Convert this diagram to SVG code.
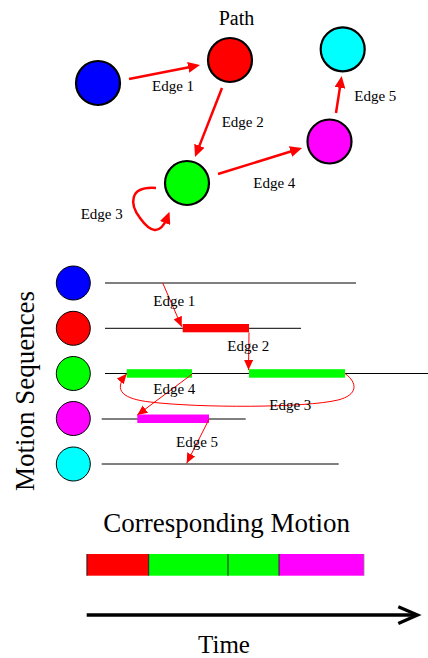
<svg xmlns="http://www.w3.org/2000/svg" width="428" height="658" viewBox="0 0 428 658">
<style>
text{font-family:"Liberation Serif","Times New Roman",serif;fill:#000}
.lbl{font-size:15px}
.big{font-size:27px}
.tn{stroke:#000;stroke-width:2.2}
.sn{stroke:#000;stroke-width:1}
.te{stroke:#f00;stroke-width:2.5;fill:none}
.se{stroke:#f00;stroke-width:1;fill:none}
.seq{stroke:#000;stroke-width:1}
.div{stroke:#222;stroke-width:1}
</style>
<defs>
<marker id="ahBig" markerUnits="userSpaceOnUse" markerWidth="12" markerHeight="11" refX="6" refY="5.5" orient="auto">
<path d="M0,0 L12,5.5 L0,11 z" fill="#f00"/>
</marker>
<marker id="ahSmall" markerUnits="userSpaceOnUse" markerWidth="10" markerHeight="9" refX="10" refY="4.5" orient="auto">
<path d="M0,0 L10,4.5 L0,9 z" fill="#f00"/>
</marker>
</defs>
<rect width="428" height="658" fill="#fff"/>

<text x="236.5" y="25" text-anchor="middle" style="font-size:20px">Path</text>

<g id="path-blue"><circle class="tn" cx="98" cy="83" r="22" fill="#00f"/></g>
<g id="path-red"><circle class="tn" cx="230" cy="60" r="22" fill="#f00"/></g>
<g id="path-green"><circle class="tn" cx="187" cy="183" r="22" fill="#0f0"/></g>
<g id="path-magenta"><circle class="tn" cx="329.5" cy="141.5" r="22" fill="#f0f"/></g>
<g id="path-cyan"><circle class="tn" cx="342.7" cy="49.3" r="22" fill="#0ff"/></g>

<g id="seq-blue"><circle class="sn" cx="73.3" cy="283" r="17" fill="#00f"/></g>
<g id="seq-red"><circle class="sn" cx="73.3" cy="328.3" r="17" fill="#f00"/></g>
<g id="seq-green"><circle class="sn" cx="73.3" cy="373.5" r="17" fill="#0f0"/></g>
<g id="seq-magenta"><circle class="sn" cx="73.3" cy="418.5" r="17" fill="#f0f"/></g>
<g id="seq-cyan"><circle class="sn" cx="73.3" cy="464" r="17" fill="#0ff"/></g>

<text class="big" transform="translate(34,391) rotate(-90)" text-anchor="middle">Motion Sequences</text>

<g id="timelines">
<line class="seq" x1="105" y1="283" x2="356" y2="283"/>
<line class="seq" x1="105" y1="328.3" x2="301" y2="328.3"/>
<line class="seq" x1="105" y1="373.5" x2="428" y2="373.5"/>
<line class="seq" x1="101.7" y1="419" x2="245.7" y2="419"/>
<line class="seq" x1="101.7" y1="464" x2="338.7" y2="464"/>
<rect x="182.7" y="324" width="66.3" height="8.3" fill="#f00"/>
<rect x="126.7" y="369.2" width="65.3" height="8.5" fill="#0f0"/>
<rect x="249" y="369.2" width="96" height="8.5" fill="#0f0"/>
<rect x="137.3" y="414.5" width="71.7" height="8.5" fill="#f0f"/>
</g>

<g id="connectors">
<line class="te" x1="129" y1="79" x2="194.1" y2="66.2" marker-end="url(#ahBig)"/>
<line class="te" x1="222" y1="88" x2="197.2" y2="151.4" marker-end="url(#ahBig)"/>
<path class="te" d="M156,188 C128,186 130,205 140,218 C150,232 160,236 167.3,217.4" marker-end="url(#ahBig)"/>
<line class="te" x1="218" y1="174" x2="296.3" y2="149.8" marker-end="url(#ahBig)"/>
<line class="te" x1="336" y1="113" x2="340.8" y2="81.9" marker-end="url(#ahBig)"/>

<line class="se" x1="162.7" y1="283" x2="181.7" y2="326.7" marker-end="url(#ahSmall)"/>
<line class="se" x1="249" y1="332.5" x2="248.5" y2="370" marker-end="url(#ahSmall)"/>
<path class="se" d="M345,373.5 C358,383 358,395 338,400 C305,408 200,408 150,402 C124,399 112,391 126.7,373.8" marker-end="url(#ahSmall)"/>
<line class="se" x1="192.3" y1="374" x2="137.3" y2="415" marker-end="url(#ahSmall)"/>
<line class="se" x1="209" y1="419.3" x2="186.7" y2="463.3" marker-end="url(#ahSmall)"/>
</g>

<g id="edge-labels">
<text class="lbl" x="152" y="91">Edge 1</text>
<text class="lbl" x="221.7" y="127">Edge 2</text>
<text class="lbl" x="80.7" y="218.5">Edge 3</text>
<text class="lbl" x="253.3" y="188">Edge 4</text>
<text class="lbl" x="354.3" y="100.5">Edge 5</text>

<text class="lbl" x="153.3" y="305.5">Edge 1</text>
<text class="lbl" x="227.3" y="351">Edge 2</text>
<text class="lbl" x="269.3" y="410">Edge 3</text>
<text class="lbl" x="153.3" y="393.5">Edge 4</text>
<text class="lbl" x="176" y="447">Edge 5</text>
</g>

<text class="big" x="226.7" y="532" text-anchor="middle">Corresponding Motion</text>

<g id="motion-bar">
<rect x="86.7" y="554" width="62" height="21.7" fill="#f00"/>
<rect x="148.7" y="554" width="79.3" height="21.7" fill="#0f0"/>
<rect x="228" y="554" width="51" height="21.7" fill="#0f0"/>
<rect x="279" y="554" width="85" height="21.7" fill="#f0f"/>
<line class="div" x1="87" y1="554" x2="87" y2="575.7"/>
<line class="div" x1="148.7" y1="554" x2="148.7" y2="575.7"/>
<line class="div" x1="228" y1="554" x2="228" y2="575.7"/>
<line class="div" x1="279" y1="554" x2="279" y2="575.7"/>
<line x1="364" y1="554" x2="364" y2="575.7" stroke="#888" stroke-width="0.8"/>
</g>

<g id="time-axis">
<line x1="86.7" y1="615" x2="416" y2="615" stroke="#000" stroke-width="3.3"/>
<polyline points="398.3,606.7 417.5,615 398.3,623.5" fill="none" stroke="#000" stroke-width="3.3"/>
</g>
<text x="224" y="652.5" text-anchor="middle" style="font-size:25px">Time</text>
</svg>
